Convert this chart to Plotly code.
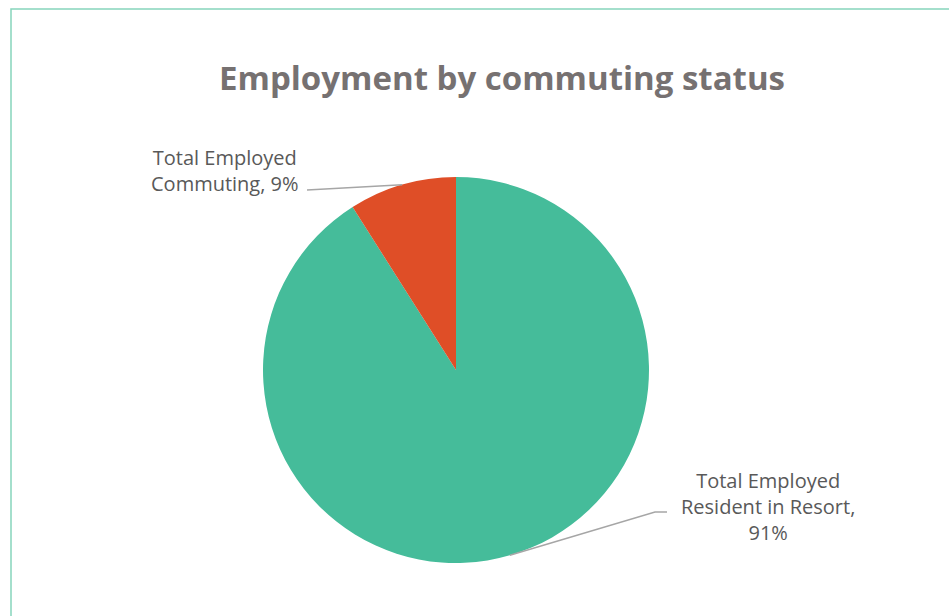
import math
import plotly.graph_objects as go

# ---- data ----
labels = ["Total Employed Resident in Resort", "Total Employed Commuting"]
label_text = ["Total Employed<br>Resident in Resort,<br>", "Total Employed<br>Commuting, "]
values = [91, 9]
colors = ["#45BC9A", "#DF4E27"]
title = "Employment by commuting status"

# ---- layout constants (pixels) ----
W, H = 949, 616
CX, CY, R = 456, 370, 193
# label centre positions and leader-line routes (from label side towards slice)
label_pos = [(768, 506), (225, 170)]
leader_route = [[(655, 512), (667, 512)], [(307, 190)]]


def px(x, y):
    return x / W, 1 - y / H


fig = go.Figure(
    go.Pie(
        labels=labels,
        values=values,
        sort=False,
        direction="clockwise",
        rotation=0,
        marker=dict(colors=colors, line=dict(width=0)),
        textinfo="none",
        hoverinfo="label+percent",
        showlegend=False,
        domain=dict(x=[(CX - R) / W, (CX + R) / W], y=[1 - (CY + R) / H, 1 - (CY - R) / H]),
    )
)

total = sum(values)
cum = 0
shapes = []
annotations = []
for i, v in enumerate(values):
    f = (cum + v / 2) / total
    cum += v
    th = 2 * math.pi * f
    ex, ey = CX + R * math.sin(th), CY - R * math.cos(th)
    pts = [(ex, ey)] + leader_route[i]
    path = "M " + " L ".join("{:.5f},{:.5f}".format(*px(x, y)) for x, y in pts)
    shapes.append(dict(type="path", xref="paper", yref="paper", path=path,
                       line=dict(color="#A6A6A6", width=1.5)))
    pct = round(v / total * 100)
    lx, ly = px(*label_pos[i])
    annotations.append(dict(
        x=lx, y=ly, xref="paper", yref="paper", xanchor="center", yanchor="middle",
        text=f"{label_text[i]}{pct}%", showarrow=False, align="center",
        font=dict(family="Open Sans, sans-serif", size=20, color="#595959"),
    ))

tx, ty = px(502, 77)
annotations.append(dict(
    x=tx, y=ty, xref="paper", yref="paper", xanchor="center", yanchor="middle",
    text="<b>" + title + "</b>", showarrow=False,
    font=dict(family="Open Sans, sans-serif", size=33, color="#767171"),
))

# chart border (only top and left visible in the crop)
bx0, by0 = px(11, 9)
shapes.append(dict(type="rect", xref="paper", yref="paper", x0=bx0, y0=-0.05, x1=1.05, y1=by0,
                   line=dict(color="#86D5BC", width=1.5), fillcolor="rgba(0,0,0,0)", layer="below"))

fig.update_layout(
    width=W, height=H,
    margin=dict(l=0, r=0, t=0, b=0),
    paper_bgcolor="white", plot_bgcolor="white",
    shapes=shapes, annotations=annotations,
)

fig.write_html("out.html", config={"displayModeBar": False},
               post_script="document.body.style.margin='0';document.body.style.overflow='hidden';")
